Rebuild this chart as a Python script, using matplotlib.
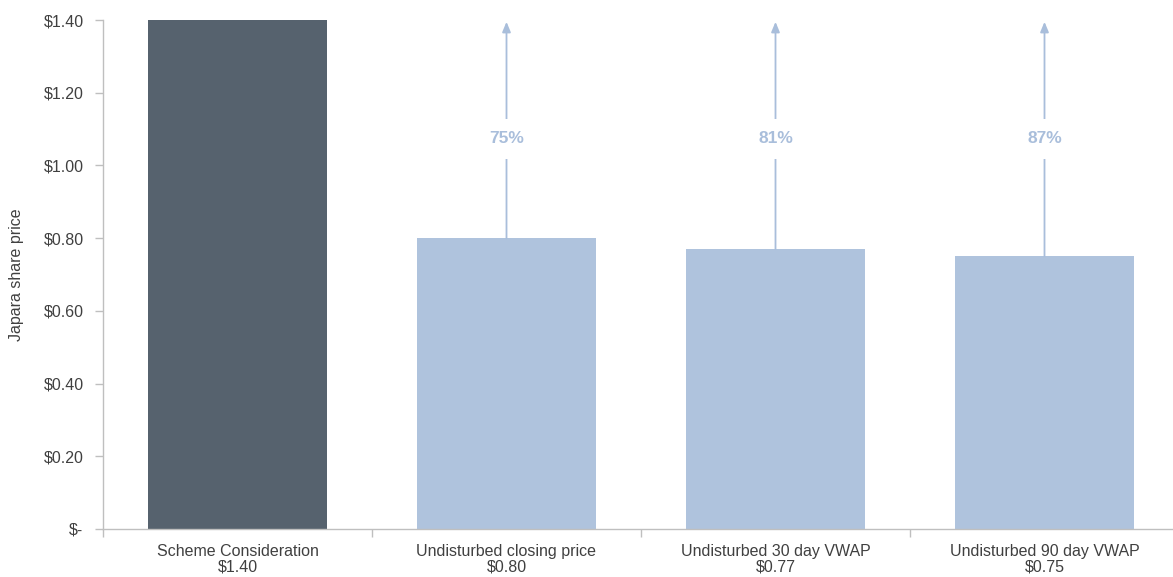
import matplotlib
matplotlib.use("Agg")
import matplotlib.pyplot as plt

plt.rcParams['font.family'] = ['Liberation Sans', 'DejaVu Sans']
plt.rcParams['text.parse_math'] = False

categories = ["Scheme Consideration", "Undisturbed closing price",
              "Undisturbed 30 day VWAP", "Undisturbed 90 day VWAP"]
values = [1.40, 0.80, 0.77, 0.75]
premiums = ["75%", "81%", "87%"]
yticks = [0.0, 0.2, 0.4, 0.6, 0.8, 1.0, 1.2, 1.4]
ytick_labels = ["$-", "$0.20", "$0.40", "$0.60", "$0.80", "$1.00", "$1.20", "$1.40"]

DARK = "#56626E"
LIGHT = "#AFC3DD"
ARROW = "#A9BEDB"
GRID = "#BFBFBF"
TXT = "#404040"

W, H = 1173, 577
fig = plt.figure(figsize=(W / 100, H / 100), dpi=100)
ax = fig.add_axes([103 / W, (H - 529) / H, 1076 / W, 509 / H])

x = list(range(len(categories)))
colors = [DARK] + [LIGHT] * (len(categories) - 1)
ax.bar(x, values, width=0.665, color=colors, zorder=2)

ax.set_xlim(-0.5, len(categories) - 0.5)
ax.set_ylim(0, 1.40)

# arrows from bar tops up to scheme consideration
label_y = 1.073
for i, p in zip(x[1:], premiums):
    ax.annotate("", xy=(i, values[0] - 0.005), xytext=(i, values[i]),
                arrowprops=dict(arrowstyle="-|>,head_length=0.6,head_width=0.25",
                                color=ARROW, lw=1.3, shrinkA=0, shrinkB=0),
                zorder=3)
    ax.text(i, label_y, p, ha="center", va="center", fontsize=12.5,
            fontweight="bold", color=ARROW, zorder=4,
            bbox=dict(facecolor="white", edgecolor="none", pad=9))

ax.set_yticks(yticks)
ax.set_yticklabels(ytick_labels, fontsize=11.5, color=TXT)
ax.set_xticks(x)
ax.set_xticklabels([f"{c}\n${v:.2f}" for c, v in zip(categories, values)],
                   fontsize=11.5, color=TXT, linespacing=1.0)
ax.tick_params(axis="x", length=0, pad=11)
ax.set_xticks([i + 0.5 for i in x[:-1]] + [-0.5], minor=True)
ax.tick_params(axis="x", which="minor", length=6, color=GRID, width=1)
ax.tick_params(axis="y", length=6, color=GRID, width=1, pad=8)

ax.set_ylabel("Japara share price", fontsize=11.5, color=TXT, labelpad=14)

for s in ["top", "right"]:
    ax.spines[s].set_visible(False)
for s in ["left", "bottom"]:
    ax.spines[s].set_color(GRID)
    ax.spines[s].set_linewidth(1)

fig.savefig("out.png", dpi=100)
